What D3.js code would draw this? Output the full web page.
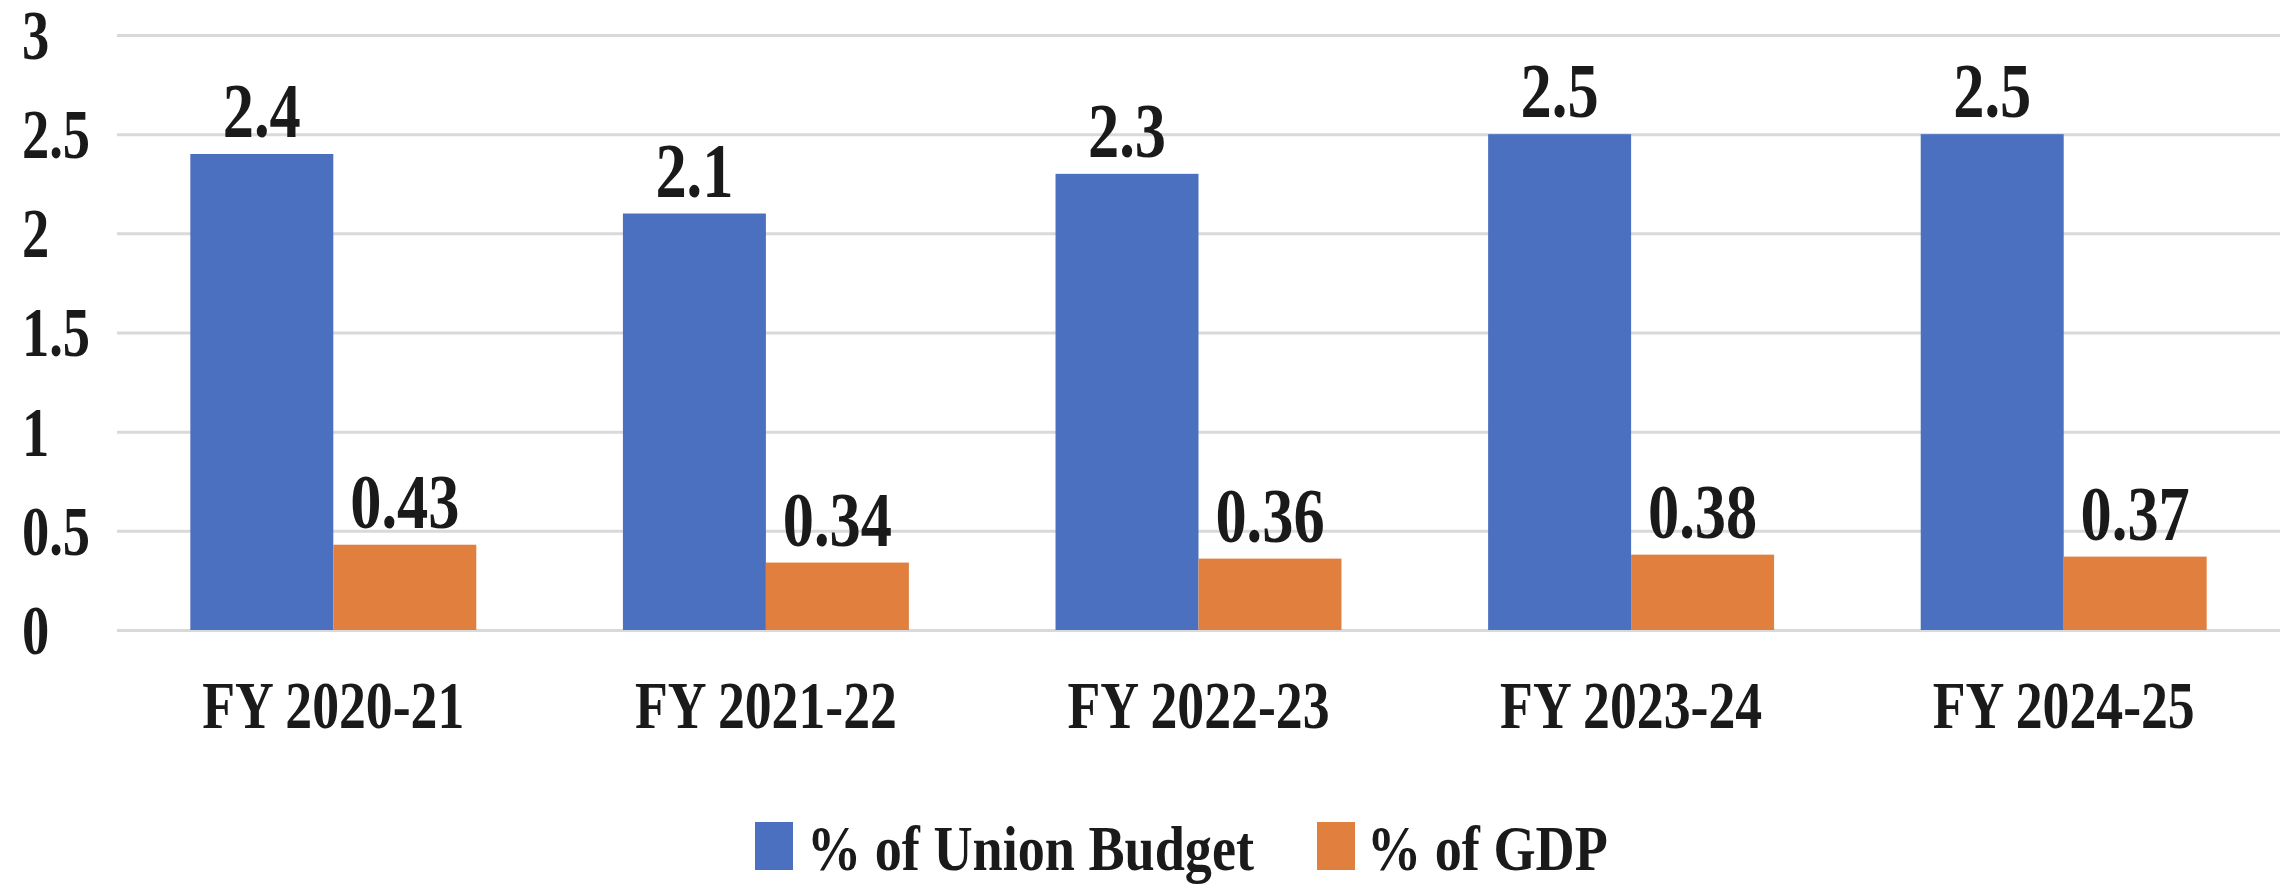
<!DOCTYPE html>
<html>
<head>
<meta charset="utf-8">
<script src="https://cdn.jsdelivr.net/npm/d3@7"></script>
<style>
  html, body { margin: 0; padding: 0; background: #ffffff; }
  svg text { font-family: "Liberation Serif", "Times New Roman", serif; font-weight: bold; fill: #1a1a1a; }
</style>
</head>
<body>
<svg id="chart" width="2288" height="885"></svg>
<script>
const categories = ["FY 2020-21", "FY 2021-22", "FY 2022-23", "FY 2023-24", "FY 2024-25"];
const seriesNames = ["% of Union Budget", "% of GDP"];
const unionBudget = [2.4, 2.1, 2.3, 2.5, 2.5];
const gdp = [0.43, 0.34, 0.36, 0.38, 0.37];
const valueLabels = [["2.4", "2.1", "2.3", "2.5", "2.5"], ["0.43", "0.34", "0.36", "0.38", "0.37"]];
const yTicks = [0, 0.5, 1, 1.5, 2, 2.5, 3];
const yTickLabels = ["0", "0.5", "1", "1.5", "2", "2.5", "3"];
const colors = ["#4b70bf", "#e07f3e"];

const svg = d3.select("#chart");
const plot = { left: 117, right: 2280, top: 35, bottom: 630 };

const x0 = d3.scaleBand().domain(categories).range([plot.left, plot.right]).paddingInner(0.339).paddingOuter(0.1695);
const x1 = d3.scaleBand().domain([0, 1]).range([0, x0.bandwidth()]).padding(0);
const y = d3.scaleLinear().domain([0, 3]).range([plot.bottom, plot.top]);

// grid + y axis
const yAxis = d3.axisLeft(y).tickValues(yTicks).tickFormat((d, i) => yTickLabels[i]).tickSize(-(plot.right - plot.left)).tickPadding(0);
const gy = svg.append("g").attr("transform", `translate(${plot.left},0)`).call(yAxis);
gy.select(".domain").remove();
gy.selectAll(".tick line").attr("stroke", "#d9d9d9").attr("stroke-width", 3);
gy.selectAll(".tick text")
  .attr("x", null).attr("dy", "0.34em")
  .attr("text-anchor", "start")
  .attr("transform", `translate(${22 - plot.left},0) scale(0.79,1)`)
  .style("font-size", "69px");

const series = [unionBudget, gdp];
series.forEach((vals, s) => {
  const g = svg.append("g");
  g.selectAll("rect").data(vals).enter().append("rect")
    .attr("x", (d, i) => x0(categories[i]) + x1(s))
    .attr("width", x1.bandwidth())
    .attr("y", d => y(d))
    .attr("height", d => y(0) - y(d))
    .attr("fill", colors[s]);
  g.selectAll("text").data(vals).enter().append("text")
    .attr("text-anchor", "middle")
    .attr("transform", (d, i) => `translate(${x0(categories[i]) + x1(s) + x1.bandwidth() / 2},${y(d) - 17}) scale(0.8,1)`)
    .style("font-size", "78px")
    .text((d, i) => valueLabels[s][i]);
});

// x axis labels
const xAxis = d3.axisBottom(x0).tickSize(0).tickPadding(0);
const gx = svg.append("g").attr("transform", `translate(0,${plot.bottom})`).call(xAxis);
gx.select(".domain").remove();
gx.selectAll(".tick text")
  .attr("y", null).attr("dy", null)
  .attr("transform", "translate(0,98) scale(0.79,1)")
  .style("font-size", "68px");

// legend
const legendItems = [
  { sx: 755, tx: 807 },
  { sx: 1317, tx: 1367 }
];
const lg = svg.append("g");
seriesNames.forEach((name, i) => {
  lg.append("rect").attr("x", legendItems[i].sx).attr("y", 822).attr("width", 38).attr("height", 48).attr("fill", colors[i]);
  lg.append("text")
    .attr("transform", `translate(${legendItems[i].tx},870) scale(0.86,1)`)
    .style("font-size", "63px")
    .text(name);
});
</script>
</body>
</html>
